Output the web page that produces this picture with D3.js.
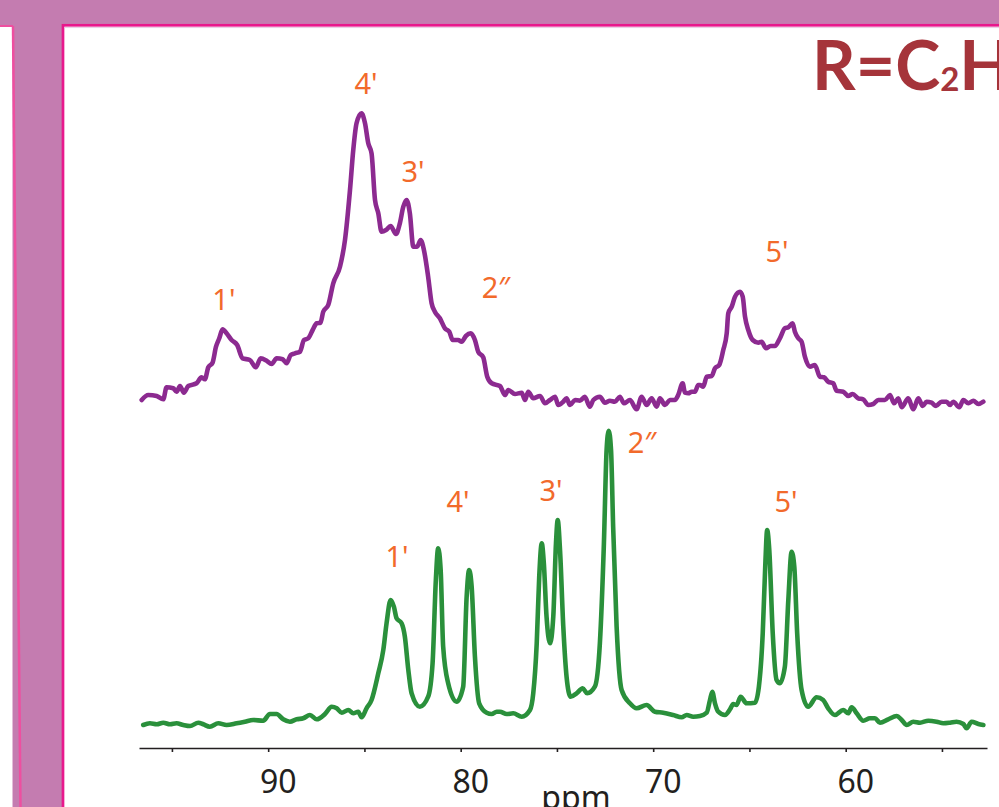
<!DOCTYPE html>
<html><head><meta charset="utf-8">
<script src="https://cdn.jsdelivr.net/npm/d3@7/dist/d3.min.js"></script>
<style>html,body{margin:0;padding:0;background:#fff;overflow:hidden}svg{display:block}</style>
</head><body>
<script>
// ---------------- data ----------------
const greenPpm = [96.49,96.14,95.79,95.45,95.10,94.76,94.41,94.06,93.63,93.37,93.03,92.59,92.16,91.64,91.21,90.78,90.26,89.91,89.56,89.22,88.87,88.52,88.18,87.83,87.48,87.05,86.70,86.44,86.18,85.84,85.58,85.32,85.15,84.89,84.63,84.28,84.02,83.85,83.64,83.47,83.33,83.07,82.90,82.72,82.55,82.12,81.69,81.46,81.29,81.17,81.04,80.91,80.65,80.21,79.87,79.69,79.56,79.43,79.26,79.04,78.65,78.39,78.13,77.96,77.61,77.27,76.83,76.40,76.23,76.05,75.92,75.79,75.68,75.54,75.36,75.19,75.05,74.96,74.84,74.67,74.50,74.29,73.98,73.66,73.43,73.03,72.77,72.56,72.42,72.31,72.19,72.08,71.90,71.64,71.21,70.86,70.34,69.91,69.48,68.96,68.52,68.26,67.92,67.57,67.22,67.05,66.93,66.79,66.62,66.27,66.01,65.84,65.67,65.46,65.15,64.71,64.51,64.31,64.18,64.08,63.97,63.79,63.59,63.42,63.16,62.98,62.81,62.67,62.52,62.29,61.95,61.51,61.17,60.91,60.56,60.13,59.87,59.69,59.43,59.09,58.74,58.48,58.22,57.79,57.35,57.09,56.83,56.49,56.14,55.71,55.28,54.93,54.58,54.24,53.89,53.72,53.46,53.11,52.85];
const greenInt = [1,2.7,1.7,3.3,1.7,2.7,1,0,3.3,1.7,-0.7,2.7,1,2.7,4.3,6,5.3,12,12,6.7,4.3,6.7,7.7,11,6.7,12,19.3,17.7,13.3,16,12.7,14.3,8.7,17.7,26,52.7,76,102.7,126,119.3,107.7,102.7,89.3,56,32.7,19.3,29.3,62.7,146,177.7,156,79.3,42.7,24.3,39.3,129.3,156,139.3,69.3,22.7,13.3,12,14.3,14.3,12,12.7,9.3,16,32.7,82.7,149.3,182.7,162.7,109.3,82.7,109.3,182.7,206,176,99.3,49.3,29.3,32.7,37.7,32.7,39.3,82.7,182.7,276,295.3,276,199.3,99.3,36,22.7,17.7,21,14.3,13.3,11,8.7,11,9.3,10,13.3,26,34.3,22.7,14.3,11,16.7,22,21,29.3,22.7,23.3,39.3,92.7,159.3,196,176,92.7,46,42.7,59.3,126,174.3,159.3,92.7,36,19.3,28.7,26,17.7,11,16,12.7,18.7,12.7,5.3,7.7,7.7,3.3,6.7,10,6,1,4.3,3.3,5.3,4.3,2.7,3.3,4.3,2,-2.3,4.3,2,1];

const purplePpm = [96.57,96.23,95.79,95.45,95.28,94.93,94.76,94.58,94.38,94.15,93.72,93.46,93.29,93.11,92.89,92.71,92.54,92.37,92.16,91.90,91.61,91.33,90.95,90.64,90.39,90.08,89.82,89.56,89.25,89.04,88.83,88.61,88.35,88.14,87.92,87.69,87.48,87.28,87.14,86.88,86.62,86.27,86.01,85.75,85.58,85.41,85.15,84.97,84.80,84.63,84.45,84.28,84.11,83.88,83.64,83.36,83.16,82.98,82.81,82.64,82.46,82.26,82.08,81.91,81.69,81.51,81.34,81.08,80.82,80.59,80.42,80.13,79.95,79.73,79.48,79.26,79.09,78.83,78.62,78.39,77.96,77.70,77.53,77.18,76.83,76.66,76.49,76.23,75.88,75.62,75.36,75.10,74.93,74.67,74.50,74.32,74.06,73.81,73.55,73.29,73.11,72.77,72.51,72.25,71.99,71.73,71.52,71.21,70.86,70.60,70.34,70.08,69.82,69.65,69.39,69.13,68.87,68.70,68.47,68.35,68.18,68.00,67.83,67.66,67.57,67.40,67.22,66.96,66.79,66.57,66.36,66.18,66.10,65.92,65.75,65.49,65.35,65.23,65.06,64.83,64.54,64.37,64.14,63.90,63.68,63.42,63.16,62.98,62.76,62.64,62.46,62.29,62.12,61.86,61.60,61.34,61.13,60.91,60.65,60.47,60.13,59.87,59.64,59.35,59.09,58.83,58.57,58.31,57.96,57.70,57.49,57.27,57.09,56.75,56.49,56.23,56.00,55.80,55.54,55.31,55.02,54.76,54.58,54.41,54.10,53.89,53.63,53.37,53.11,52.85];
const purpleInt = [1,6,5,1.7,13.7,12.7,9.3,15,8.3,15,17.7,23.7,21.7,33.7,38.3,54.3,62.7,71.7,67.7,61,56,42.7,41,33.7,42.7,40.3,37,42.7,41.7,37.7,46,47.7,49.3,61,62.7,71,77.7,78.3,89.3,96,117.7,134.3,161,211,251,277.7,287.7,277.7,257.7,247.7,201,187.7,169.3,171,175,167,177.7,194.3,201,187.7,154.3,154.3,161,151,124.3,97.7,89.3,82.7,72.7,69.3,61,61,59.3,65,67.7,61,49.3,43.7,24.3,17.7,15,6,11,7,8.3,1,9.3,2.7,5,-2.3,1,4.3,-4,-0.7,2.7,-4,1,0.3,4.3,-5.7,1,4.3,-1.7,0.3,-0.7,4.3,-2.3,1,-8.3,4.3,-4,2.7,-5.7,2.7,-4,1,1,6,17.7,8.3,7.7,9.3,9.3,16,16,14.3,24.3,25,32.7,36,51,67.7,87.7,94.3,104.3,109.3,104.3,84.3,71,61,58.3,59.3,52.7,55,55,62.7,72.7,73.7,77.7,69.3,62.7,59.3,44.3,34.3,36,24.3,23.7,19.3,17.7,10.3,9.3,5,7,2.7,1.7,-4,-3,1,1,6,-2.3,2.7,-6.3,2.7,-8.3,2.7,-5,-0.7,-1.7,-5,-0.7,-0.7,-4,-0.7,-6.3,1,-2.3,0.3,-3,-0.7];

const tickValues = [95, 90, 85, 80, 75, 70, 65, 60, 55];
const tickLabels = [90, 80, 70, 60];

const purpleLabels = ["1'", "4'", "3'", "2\u2033", "5'"];
const purpleLabelPpm = [92.30, 84.92, 82.48, 78.17, 63.57];
const purpleLabelInt = [91, 307, 219, 103, 139];

const greenLabels = ["1'", "4'", "3'", "2\u2033", "5'"];
const greenLabelPpm = [83.31, 80.14, 75.31, 70.58, 63.10];
const greenLabelInt = [159, 214, 225, 273, 214];

const axisTitle = "ppm";
const titleMain = "R=C";
const titleSub = "2";
const titleEnd = "H";

// ---------------- drawing ----------------
const W = 999, H = 807;
const svg = d3.select("body").append("svg").attr("width", W).attr("height", H);

// frame / background
svg.append("rect").attr("x", 0).attr("y", 0).attr("width", W).attr("height", H).attr("fill", "#C47CB0");
svg.append("rect").attr("x", 0).attr("y", 26).attr("width", 12.5).attr("height", H).attr("fill", "#ffffff");
svg.append("line").attr("x1", 0).attr("y1", 26).attr("x2", 13).attr("y2", 26)
  .attr("stroke", "#EE4FA0").attr("stroke-width", 2);
svg.append("line").attr("x1", 13).attr("y1", 26).attr("x2", 20.5).attr("y2", H)
  .attr("stroke", "#EE4FA0").attr("stroke-width", 2.5);
svg.append("rect").attr("x", 63).attr("y", 25.3).attr("width", W).attr("height", H)
  .attr("fill", "#ffffff").attr("stroke", "#E8188C").attr("stroke-width", 2.7);
svg.append("line").attr("x1", 64.5).attr("y1", 27.6).attr("x2", W).attr("y2", 27.6)
  .attr("stroke", "#E6CDE3").attr("stroke-width", 1);

// scales
const x = d3.scaleLinear().domain([96.71, 52.66]).range([139, 987]);
const y = d3.scaleLinear().domain([0, 650]).range([726, 76]);
const purpleOffset = 325;

// axis
const axisG = svg.append("g").attr("transform", "translate(0,748)")
  .call(d3.axisBottom(x).tickValues(tickValues).tickSize(4).tickSizeOuter(0).tickPadding(18)
    .tickFormat(d => tickLabels.includes(d) ? d : ""));
axisG.select(".domain").attr("stroke", "#231F20").attr("stroke-width", 1.6);
axisG.selectAll(".tick line").attr("stroke", "#231F20").attr("stroke-width", 1.6);
axisG.selectAll(".tick text").attr("fill", "#231F20").attr("font-family", "'Noto Sans', sans-serif")
  .attr("font-size", 32).attr("dx", 9.5);

svg.append("text").attr("x", 576).attr("y", 809).attr("text-anchor", "middle")
  .attr("font-family", "'Noto Sans', sans-serif").attr("font-size", 32).attr("fill", "#231F20")
  .text(axisTitle);

// spectra
const green = greenPpm.map((p, i) => ({p, v: greenInt[i]}));
const purple = purplePpm.map((p, i) => ({p, v: purpleInt[i] + purpleOffset}));
const line = d3.line().x(d => x(d.p)).y(d => y(d.v)).curve(d3.curveMonotoneX);

svg.append("path").datum(purple).attr("d", line).attr("fill", "none")
  .attr("stroke", "#8C2A90").attr("stroke-width", 4.6).attr("stroke-linejoin", "round").attr("stroke-linecap", "round");
svg.append("path").datum(green).attr("d", line).attr("fill", "none")
  .attr("stroke", "#2A903B").attr("stroke-width", 4.6).attr("stroke-linejoin", "round").attr("stroke-linecap", "round");

// peak labels
const lblFont = "'Noto Sans', sans-serif";
purpleLabels.forEach((t, i) => {
  svg.append("text").attr("x", x(purpleLabelPpm[i])).attr("y", y(purpleLabelInt[i] + purpleOffset))
    .attr("text-anchor", "middle").attr("font-family", lblFont).attr("font-size", 29)
    .attr("fill", "#F26A2B").text(t);
});
greenLabels.forEach((t, i) => {
  svg.append("text").attr("x", x(greenLabelPpm[i])).attr("y", y(greenLabelInt[i]))
    .attr("text-anchor", "middle").attr("font-family", lblFont).attr("font-size", 29)
    .attr("fill", "#F26A2B").text(t);
});

// title
const title = svg.append("text").attr("x", 812).attr("y", 90)
  .attr("font-family", "Lato, 'Noto Sans', sans-serif").attr("font-weight", "bold")
  .attr("font-size", 68).attr("fill", "#A5343A");
title.append("tspan").text(titleMain);
title.append("tspan").attr("font-size", 33).attr("dy", 1).text(titleSub);
title.append("tspan").attr("dy", -1).text(titleEnd);
</script>
</body></html>
